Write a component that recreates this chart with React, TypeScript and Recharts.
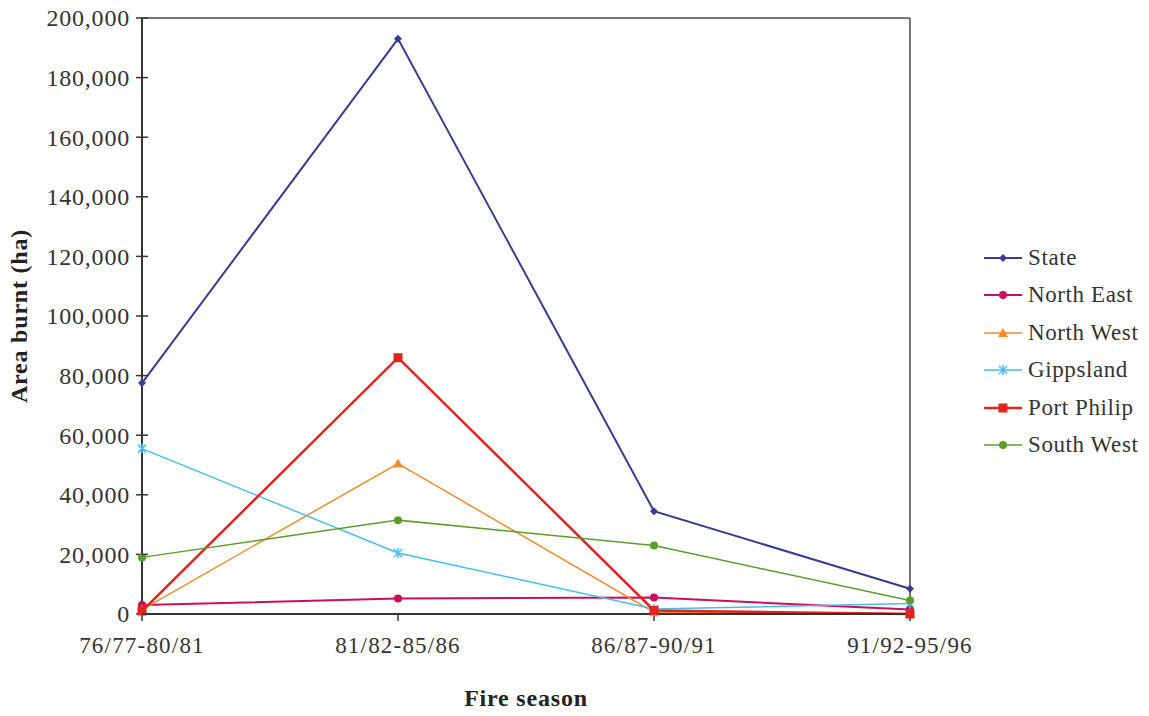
import React from 'react';
import { LineChart, Line, XAxis, YAxis, Legend, ReferenceLine } from 'recharts';

// fire seasons (categories)
const seasons = ['76/77-80/81', '81/82-85/86', '86/87-90/91', '91/92-95/96'];

// area burnt (ha) per region
const stateArea = [77500, 193000, 34500, 8500];
const northEastArea = [3000, 5200, 5500, 1500];
const northWestArea = [1500, 50500, 600, 200];
const gippslandArea = [55500, 20500, 1700, 3500];
const portPhilipArea = [1000, 86000, 1200, 0];
const southWestArea = [19000, 31500, 23000, 4500];

const yTicks = [0, 20000, 40000, 60000, 80000, 100000, 120000, 140000, 160000, 180000, 200000];

const FONT = '"Liberation Serif", "Times New Roman", serif';

const SERIES = [
    { key: 'state', name: 'State', color: '#3b3a8e', width: 2, shape: 'diamond', values: stateArea },
    { key: 'northEast', name: 'North East', color: '#c8115c', width: 2, shape: 'circle', values: northEastArea },
    { key: 'northWest', name: 'North West', color: '#f28b2e', width: 1.5, shape: 'triangle', values: northWestArea },
    { key: 'gippsland', name: 'Gippsland', color: '#45bfee', width: 1.5, shape: 'star', values: gippslandArea },
    { key: 'portPhilip', name: 'Port Philip', color: '#e0241f', width: 2.5, shape: 'square', values: portPhilipArea },
    { key: 'southWest', name: 'South West', color: '#5c9e2c', width: 1.5, shape: 'circle', values: southWestArea },
];

const data = seasons.map((season, i) => {
    const row: Record<string, string | number> = { season };
    SERIES.forEach(s => { row[s.key] = s.values[i]; });
    return row;
});

const Marker = ({ shape, color, cx, cy }: { shape: string; color: string; cx: number; cy: number }) => {
    if (cx == null || cy == null) return null;
    switch (shape) {
        case 'diamond':
            return <path d={`M${cx},${cy - 4}L${cx + 4},${cy}L${cx},${cy + 4}L${cx - 4},${cy}Z`} fill={color} />;
        case 'triangle':
            return <path d={`M${cx},${cy - 5}L${cx + 5},${cy + 4}L${cx - 5},${cy + 4}Z`} fill={color} />;
        case 'square':
            return <rect x={cx - 4.5} y={cy - 4.5} width={9} height={9} fill={color} />;
        case 'star':
            return (
                <g stroke={color} strokeWidth={1.5}>
                    <line x1={cx - 4} y1={cy - 4} x2={cx + 4} y2={cy + 4} />
                    <line x1={cx - 4} y1={cy + 4} x2={cx + 4} y2={cy - 4} />
                    <line x1={cx} y1={cy - 5} x2={cx} y2={cy + 5} />
                </g>
            );
        default:
            return <circle cx={cx} cy={cy} r={4} fill={color} />;
    }
};

const YTick = (props: any) => {
    const { x, y, payload } = props;
    const axisX = x + 12;
    return (
        <g>
            <line x1={axisX} y1={y} x2={axisX + 6} y2={y} stroke="#333" strokeWidth={1.5} />
            <text x={x} y={y} dy="0.35em" textAnchor="end" fontFamily={FONT} fontSize={24}
                letterSpacing={0.8} fill="#333">
                {Number(payload.value).toLocaleString('en-US')}
            </text>
        </g>
    );
};

const LegendContent = () => (
    <div style={{ fontFamily: FONT, fontSize: 23, letterSpacing: 0.6, color: '#333' }}>
        {SERIES.map(s => (
            <div key={s.key} style={{ display: 'flex', alignItems: 'center', height: 37.5 }}>
                <svg width={42} height={20} style={{ marginRight: 4 }}>
                    <line x1={2} y1={10} x2={40} y2={10} stroke={s.color} strokeWidth={s.width} />
                    <Marker shape={s.shape} color={s.color} cx={21} cy={10} />
                </svg>
                <span>{s.name}</span>
            </div>
        ))}
    </div>
);

export default function App() {
    return (
        <div style={{ position: 'absolute', left: 0, top: 0, background: '#fff' }}>
            <LineChart width={1149} height={716} data={data} margin={{ top: 18, right: 239, left: 20, bottom: 42 }}>
                <XAxis
                    dataKey="season"
                    height={60}
                    interval={0}
                    padding={{ left: 0, right: 0 }}
                    axisLine={{ stroke: '#333', strokeWidth: 2 }}
                    tickLine={{ stroke: '#333', strokeWidth: 1.5 }}
                    tickSize={7}
                    tickMargin={16}
                    tick={{ fontFamily: FONT, fontSize: 23, fill: '#333', letterSpacing: 1.2 }}
                    label={{
                        content: ({ viewBox }: any) => (
                            <text
                                x={viewBox.x + viewBox.width / 2}
                                y={viewBox.y + 92}
                                textAnchor="middle"
                                fontFamily={FONT}
                                fontSize={24}
                                fontWeight="bold"
                                letterSpacing={0.8}
                                fill="#222"
                            >
                                Fire season
                            </text>
                        ),
                    }}
                />
                <YAxis
                    width={122}
                    domain={[0, 200000]}
                    ticks={yTicks}
                    interval={0}
                    axisLine={{ stroke: '#333', strokeWidth: 2 }}
                    tickLine={{ stroke: '#333', strokeWidth: 1.5 }}
                    tickSize={6}
                    tickMargin={6}
                    tick={<YTick />}
                    label={{
                        content: ({ viewBox }: any) => {
                            const lx = viewBox.x + 7;
                            const ly = viewBox.y + viewBox.height / 2;
                            return (
                                <text
                                    x={lx}
                                    y={ly}
                                    transform={`rotate(-90, ${lx}, ${ly})`}
                                    textAnchor="middle"
                                    fontFamily={FONT}
                                    fontSize={24}
                                    fontWeight="bold"
                                    letterSpacing={0.8}
                                    fill="#222"
                                >
                                    Area burnt (ha)
                                </text>
                            );
                        },
                    }}
                />
                {/* plot frame: top and right edges */}
                <ReferenceLine y={200000} stroke="#777" strokeWidth={2} />
                <ReferenceLine x={seasons[seasons.length - 1]} stroke="#777" strokeWidth={2} />
                <Legend
                    layout="vertical"
                    align="center"
                    verticalAlign="middle"
                    content={<LegendContent />}
                    wrapperStyle={{ left: 982, top: 239, width: 167, right: 'auto', bottom: 'auto' }}
                />
                {SERIES.map(s => (
                    <Line
                        key={s.key}
                        type="linear"
                        dataKey={s.key}
                        name={s.name}
                        stroke={s.color}
                        strokeWidth={s.width}
                        isAnimationActive={false}
                        dot={(p: any) => (
                            <Marker key={`${s.key}-${p.index}`} shape={s.shape} color={s.color} cx={p.cx} cy={p.cy} />
                        )}
                        activeDot={false}
                    />
                ))}
            </LineChart>
        </div>
    );
}
